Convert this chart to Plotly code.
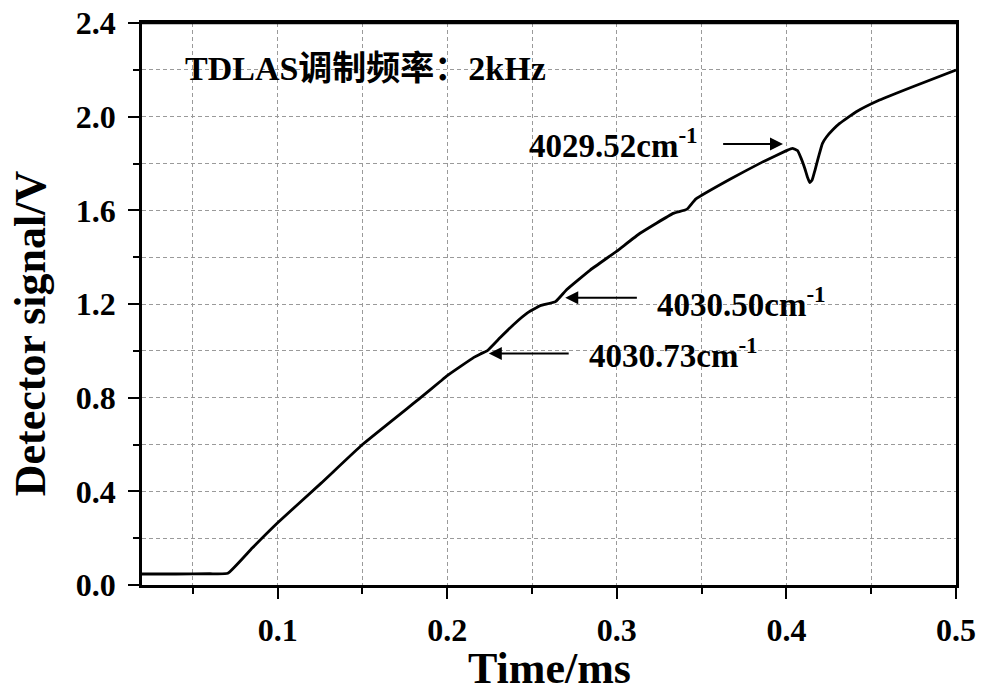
import plotly.graph_objects as go

# ---- data ----
time_ms = [0.020, 0.040, 0.060, 0.0706, 0.085, 0.100, 0.1255, 0.150, 0.1843, 0.196, 0.200,
           0.2157, 0.2196, 0.2235, 0.2314, 0.240, 0.2475, 0.2549, 0.2638, 0.2705, 0.2843,
           0.300, 0.3137, 0.3333, 0.3412, 0.3465, 0.3667, 0.3863, 0.400, 0.4035, 0.4065,
           0.4085, 0.4108, 0.4125, 0.4138, 0.4152, 0.4168, 0.4190, 0.4212, 0.4235, 0.4275,
           0.4314, 0.4412, 0.4549, 0.4745, 0.500]
signal_v = [0.047, 0.047, 0.048, 0.050, 0.158, 0.266, 0.434, 0.600, 0.800, 0.870, 0.894,
            0.972, 0.987, 1.000, 1.058, 1.118, 1.163, 1.193, 1.210, 1.262, 1.345,
            1.426, 1.502, 1.587, 1.604, 1.648, 1.733, 1.808, 1.855, 1.865, 1.855,
            1.825, 1.780, 1.740, 1.718, 1.730, 1.770, 1.830, 1.885, 1.912, 1.945,
            1.971, 2.021, 2.071, 2.128, 2.199]

line_labels = ["4029.52cm<sup>-1</sup>", "4030.50cm<sup>-1</sup>", "4030.73cm<sup>-1</sup>"]
label_pos = [(0.2472, 1.789), (0.3225, 1.110), (0.2824, 0.892)]
arrow_head = [(0.398, 1.883), (0.2696, 1.227), (0.2245, 0.989)]
arrow_tail = [(0.3618, 1.883), (0.3127, 1.227), (0.2725, 0.989)]

x_ticks = [0.1, 0.2, 0.3, 0.4, 0.5]
y_ticks = [0.0, 0.4, 0.8, 1.2, 1.6, 2.0, 2.4]

FONT = "Liberation Serif, Times New Roman, Noto Sans CJK SC, serif"
GRID = "#9a9a9a"

fig = go.Figure()
fig.add_trace(go.Scatter(x=time_ms, y=signal_v, mode="lines",
                         line=dict(color="black", width=2.8, shape="spline", smoothing=0.35),
                         showlegend=False))

axis_common = dict(showline=True, linecolor="black", linewidth=2.5, mirror=True,
                   ticks="outside", ticklen=11, tickwidth=2, tickcolor="black",
                   showgrid=True, gridcolor=GRID, griddash="4px,3px", gridwidth=1,
                   zeroline=False, automargin=False, ticklabeloverflow="allow",
                   tickfont=dict(family=FONT, size=32, color="black", weight="bold"))

fig.update_xaxes(range=[0.02, 0.5], tickvals=x_ticks, ticktext=[f"{v:.1f}" for v in x_ticks],
                 minor=dict(dtick=0.05, tick0=0, ticklen=6, tickwidth=2, tickcolor="black",
                            ticks="outside", showgrid=True, gridcolor=GRID,
                            griddash="4px,3px", gridwidth=1),
                 ticklabelstandoff=4, **axis_common)
fig.update_yaxes(range=[0.0, 2.4], tickvals=y_ticks, ticktext=[f"{v:.1f}" for v in y_ticks],
                 minor=dict(dtick=0.2, tick0=0, ticklen=6, tickwidth=2, tickcolor="black",
                            ticks="outside", showgrid=True, gridcolor=GRID,
                            griddash="4px,3px", gridwidth=1),
                 ticklabelstandoff=6, **axis_common)

annotations = []
# axis titles
annotations.append(dict(text="Time/ms", xref="paper", yref="paper", x=0.5, y=-0.1477,
                        xanchor="center", yanchor="middle", showarrow=False,
                        font=dict(family=FONT, size=44, color="black", weight="bold")))
annotations.append(dict(text="Detector signal/V", xref="paper", yref="paper", x=-0.1376, y=0.448,
                        xanchor="center", yanchor="middle", showarrow=False, textangle=-90,
                        font=dict(family=FONT, size=44, color="black", weight="bold")))
# header text
annotations.append(dict(text="TDLAS调制频率：2kHz", xref="paper", yref="paper", x=0.0504, y=0.9189,
                        xanchor="left", yanchor="middle", showarrow=False,
                        font=dict(family=FONT, size=34, color="black", weight="bold")))
# line labels
for txt, (lx, ly) in zip(line_labels, label_pos):
    annotations.append(dict(text=txt, x=lx, y=ly, xref="x", yref="y", xanchor="left",
                            yanchor="bottom", showarrow=False,
                            font=dict(family=FONT, size=33, color="black", weight="bold")))
# arrows
for (hx, hy), (tx, ty) in zip(arrow_head, arrow_tail):
    annotations.append(dict(text="", x=hx, y=hy, ax=tx, ay=ty, xref="x", yref="y",
                            axref="x", ayref="y", showarrow=True, arrowhead=2,
                            arrowsize=1.3, arrowwidth=2, arrowcolor="black", standoff=0))

# explicit top frame line (closes the box)
frame = [dict(type="line", xref="paper", yref="paper", x0=0, x1=1, y0=1, y1=1,
              line=dict(color="black", width=2.5), layer="above")]

fig.update_layout(width=984, height=693, margin=dict(l=142, r=28, t=23, b=108, autoexpand=False),
                  paper_bgcolor="white", plot_bgcolor="white",
                  annotations=annotations, shapes=frame)

# remove the default 8px page margin so the figure sits at the window's top-left corner
fig.write_html("out.html", config={"displayModeBar": False},
               post_script="document.body.style.margin='0px';document.body.style.overflow='hidden';")
